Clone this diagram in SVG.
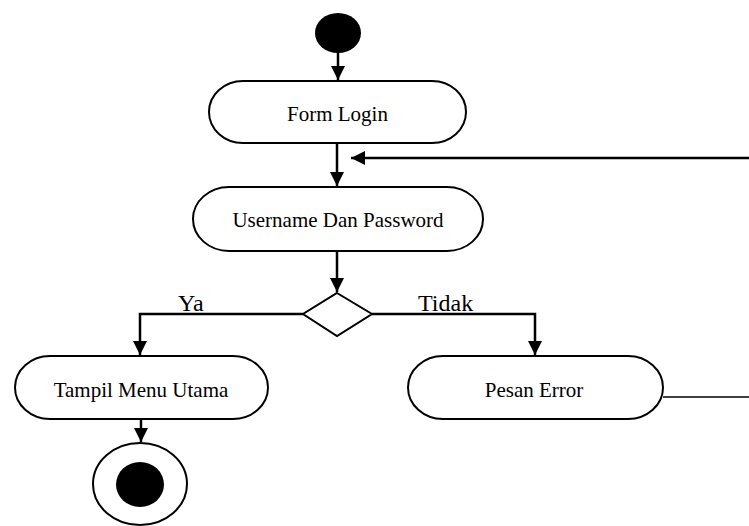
<svg xmlns="http://www.w3.org/2000/svg" width="749" height="526" viewBox="0 0 749 526">
  <style>
    .node { fill: #ffffff; stroke: #000000; stroke-width: 2; }
    .solid { fill: #000000; stroke: none; }
    .edge { fill: none; stroke: #000000; stroke-width: 2.5; }
    .thin { fill: none; stroke: #000000; stroke-width: 1.5; }
    .label { font-family: "Liberation Serif", "Times New Roman", serif; font-size: 21px; fill: #000000; text-anchor: middle; }
    .guard { font-family: "Liberation Serif", "Times New Roman", serif; font-size: 24px; fill: #000000; }
  </style>
  <defs>
    <marker id="arrow" viewBox="0 0 14 14" refX="14" refY="7" markerWidth="14" markerHeight="14" markerUnits="userSpaceOnUse" orient="auto">
      <path d="M0,0 L14,7 L0,14 Z" fill="#000000"/>
    </marker>
  </defs>

  <rect width="749" height="526" fill="#ffffff"/>

  <!-- start state -->
  <g id="start">
    <ellipse class="solid" cx="338" cy="33" rx="23" ry="20"/>
  </g>

  <!-- activities -->
  <g id="form-login">
    <rect class="node" x="209" y="81" width="257" height="62" rx="34" ry="31"/>
    <text class="label" x="337.5" y="121">Form Login</text>
  </g>

  <g id="username-password">
    <rect class="node" x="193" y="187" width="290" height="64" rx="36" ry="32"/>
    <text class="label" x="338" y="227">Username Dan Password</text>
  </g>

  <g id="decision">
    <polygon class="node" points="337,293 372,314 337,336 303,314"/>
  </g>

  <g id="tampil-menu-utama">
    <rect class="node" x="15" y="356" width="253" height="63" rx="35" ry="31.5"/>
    <text class="label" x="141" y="397">Tampil Menu Utama</text>
  </g>

  <g id="pesan-error">
    <rect class="node" x="408" y="356" width="255" height="63" rx="35" ry="31.5"/>
    <text class="label" x="534" y="397">Pesan Error</text>
  </g>

  <!-- final state -->
  <g id="end">
    <ellipse class="node" cx="140" cy="484" rx="47" ry="41"/>
    <ellipse class="solid" cx="140" cy="484.5" rx="24" ry="22.5"/>
  </g>

  <!-- connectors -->
  <g id="connectors">
    <line class="edge" x1="338" y1="53" x2="338" y2="80" marker-end="url(#arrow)"/>
    <line class="edge" x1="337" y1="143" x2="337" y2="186" marker-end="url(#arrow)"/>
    <line class="edge" x1="337" y1="251" x2="337" y2="292" marker-end="url(#arrow)"/>
    <polyline class="edge" points="303,314 140,314 140,355" marker-end="url(#arrow)"/>
    <polyline class="edge" points="372,314 535,314 535,355" marker-end="url(#arrow)"/>
    <line class="edge" x1="141" y1="419" x2="141" y2="442" marker-end="url(#arrow)"/>
    <line class="thin" x1="663" y1="397" x2="749" y2="397"/>
    <line class="edge" x1="749" y1="158" x2="351" y2="158" marker-end="url(#arrow)"/>
    <text class="guard" x="178" y="311">Ya</text>
    <text class="guard" x="418" y="311">Tidak</text>
  </g>
</svg>
